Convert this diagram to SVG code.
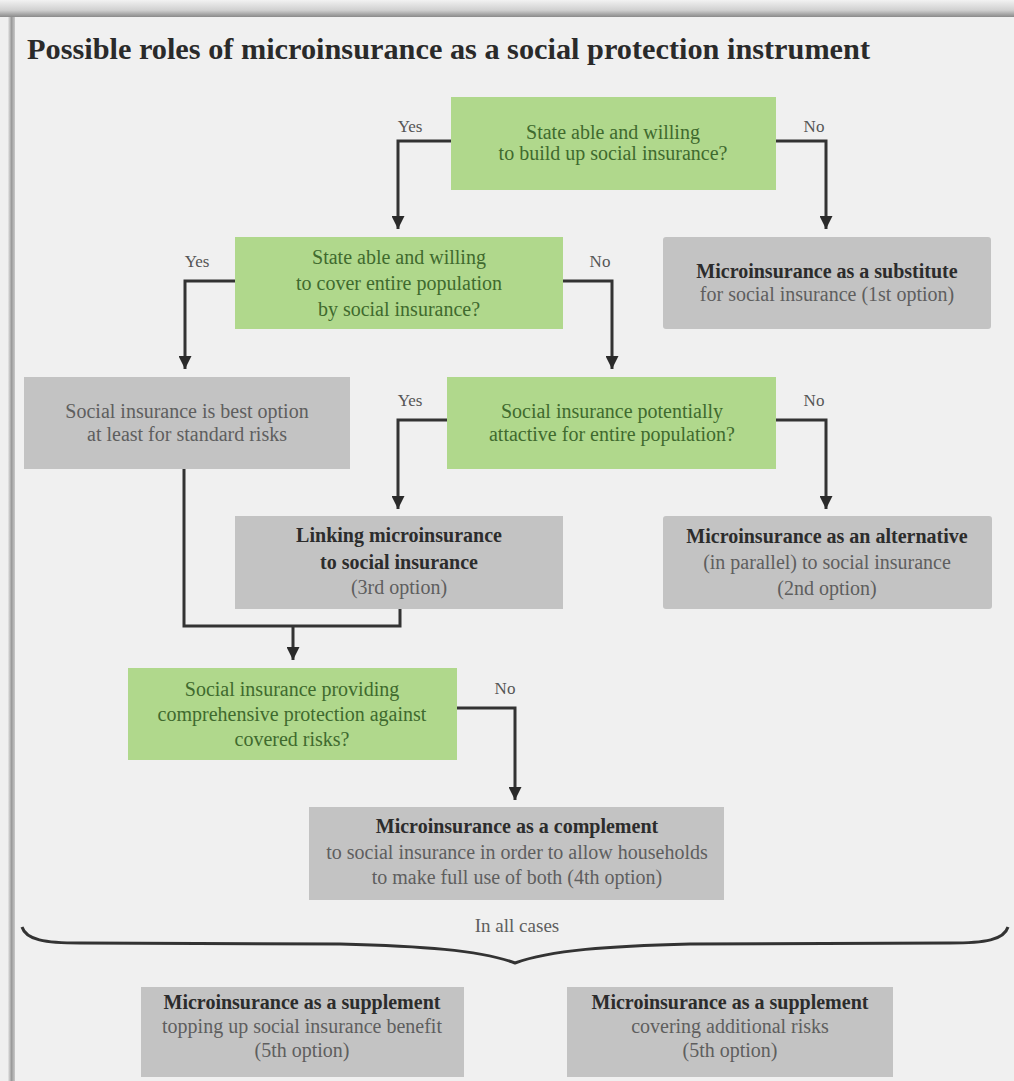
<svg xmlns="http://www.w3.org/2000/svg" width="1014" height="1081" viewBox="0 0 1014 1081">
<defs>
<linearGradient id="topShadow" x1="0" y1="0" x2="0" y2="1">
<stop offset="0" stop-color="#f2f2f2"/>
<stop offset="0.6" stop-color="#d0d0d0"/>
<stop offset="1" stop-color="#8a8a8a"/>
</linearGradient>
<linearGradient id="leftShadow" x1="0" y1="0" x2="1" y2="0">
<stop offset="0" stop-color="#e8e8e8"/>
<stop offset="0.5" stop-color="#9a9a9a"/>
<stop offset="1" stop-color="#c8c8c8"/>
</linearGradient>
<marker id="arrow" viewBox="0 0 10 10" refX="10" refY="5" markerWidth="16" markerHeight="13" markerUnits="userSpaceOnUse" orient="auto">
<path d="M0,0 L10,5 L0,10 z" fill="#2a2a2a"/>
</marker>
</defs>
<style>
.green{fill:#b0d88c;}
.gray{fill:#c3c3c3;}
.gt{font-family:"Liberation Serif","DejaVu Serif",serif;font-size:20px;fill:#3f6a2e;text-anchor:middle;}
.rt{font-family:"Liberation Serif","DejaVu Serif",serif;font-size:20px;fill:#5e5e5e;text-anchor:middle;}
.bt{font-family:"Liberation Serif","DejaVu Serif",serif;font-size:20px;font-weight:bold;fill:#2c2c2c;text-anchor:middle;}
.lbl{font-family:"Liberation Serif","DejaVu Serif",serif;font-size:17px;fill:#555555;text-anchor:middle;}
.conn{fill:none;stroke:#333333;stroke-width:3;}
</style>
<rect x="0" y="0" width="1014" height="1081" fill="#efefef"/>
<rect x="0" y="0" width="1014" height="17" fill="url(#topShadow)"/>
<rect x="8" y="17" width="7" height="1064" fill="url(#leftShadow)"/>
<rect x="15" y="17" width="999" height="1064" fill="#f0f0f0"/>

<text x="27" y="59" font-family="Liberation Serif, DejaVu Serif, serif" font-size="30" font-weight="bold" fill="#2a2a2a" textLength="843" lengthAdjust="spacingAndGlyphs">Possible roles of microinsurance as a social protection instrument</text>

<g id="connectors">
<path class="conn" d="M451,141 H398 V229" marker-end="url(#arrow)"/>
<path class="conn" d="M776,141 H826 V229" marker-end="url(#arrow)"/>
<path class="conn" d="M235,281 H185 V369" marker-end="url(#arrow)"/>
<path class="conn" d="M563,281 H612 V369" marker-end="url(#arrow)"/>
<path class="conn" d="M447,420 H398 V509" marker-end="url(#arrow)"/>
<path class="conn" d="M776,420 H826 V509" marker-end="url(#arrow)"/>
<path class="conn" d="M184,469 V626 H400 V609"/>
<path class="conn" d="M293,626 V660" marker-end="url(#arrow)"/>
<path class="conn" d="M457,708 H515 V800" marker-end="url(#arrow)"/>
<path d="M22,927 C26,940 45,943 80,943 L340,944 C420,946 480,950 515,963 C550,950 610,946 690,944 L950,943 C985,943 1004,940 1008,927" fill="none" stroke="#333333" stroke-width="3" stroke-linejoin="miter"/>
</g>

<g id="labels">
<text class="lbl" x="410" y="132">Yes</text>
<text class="lbl" x="814" y="132">No</text>
<text class="lbl" x="197" y="267">Yes</text>
<text class="lbl" x="600" y="267">No</text>
<text class="lbl" x="410" y="406">Yes</text>
<text class="lbl" x="814" y="406">No</text>
<text class="lbl" x="505" y="694">No</text>
<text class="rt" x="517" y="932" style="font-size:19px">In all cases</text>
</g>

<g id="q1">
<rect class="green" x="451" y="97" width="325" height="93"/>
<text class="gt" x="613" y="139">State able and willing</text>
<text class="gt" x="613" y="160">to build up social insurance?</text>
</g>

<g id="q2">
<rect class="green" x="235" y="237" width="328" height="92"/>
<text class="gt" x="399" y="264">State able and willing</text>
<text class="gt" x="399" y="290">to cover entire population</text>
<text class="gt" x="399" y="316">by social insurance?</text>
</g>

<g id="opt1">
<rect class="gray" x="663" y="237" width="328" height="92" rx="3"/>
<text class="bt" x="827" y="278">Microinsurance as a substitute</text>
<text class="rt" x="827" y="301">for social insurance (1st option)</text>
</g>

<g id="best">
<rect class="gray" x="24" y="377" width="326" height="92"/>
<text class="rt" x="187" y="418">Social insurance is best option</text>
<text class="rt" x="187" y="441">at least for standard risks</text>
</g>

<g id="q3">
<rect class="green" x="447" y="377" width="329" height="92"/>
<text class="gt" x="612" y="418">Social insurance potentially</text>
<text class="gt" x="612" y="441">attactive for entire population?</text>
</g>

<g id="opt3">
<rect class="gray" x="235" y="516" width="328" height="93"/>
<text class="bt" x="399" y="542">Linking microinsurance</text>
<text class="bt" x="399" y="569">to social insurance</text>
<text class="rt" x="399" y="594">(3rd option)</text>
</g>

<g id="opt2">
<rect class="gray" x="663" y="516" width="329" height="93" rx="3"/>
<text class="bt" x="827" y="543">Microinsurance as an alternative</text>
<text class="rt" x="827" y="569">(in parallel) to social insurance</text>
<text class="rt" x="827" y="595">(2nd option)</text>
</g>

<g id="q4">
<rect class="green" x="128" y="668" width="329" height="92"/>
<text class="gt" x="292" y="696">Social insurance providing</text>
<text class="gt" x="292" y="721">comprehensive protection against</text>
<text class="gt" x="292" y="746">covered risks?</text>
</g>

<g id="opt4">
<rect class="gray" x="309" y="807" width="415" height="93"/>
<text class="bt" x="517" y="833">Microinsurance as a complement</text>
<text class="rt" x="517" y="859">to social insurance in order to allow households</text>
<text class="rt" x="517" y="884">to make full use of both (4th option)</text>
</g>

<g id="opt5a">
<rect class="gray" x="141" y="987" width="323" height="90"/>
<text class="bt" x="302" y="1009">Microinsurance as a supplement</text>
<text class="rt" x="302" y="1033">topping up social insurance benefit</text>
<text class="rt" x="302" y="1057">(5th option)</text>
</g>

<g id="opt5b">
<rect class="gray" x="567" y="987" width="326" height="90"/>
<text class="bt" x="730" y="1009">Microinsurance as a supplement</text>
<text class="rt" x="730" y="1033">covering additional risks</text>
<text class="rt" x="730" y="1057">(5th option)</text>
</g>
</svg>
